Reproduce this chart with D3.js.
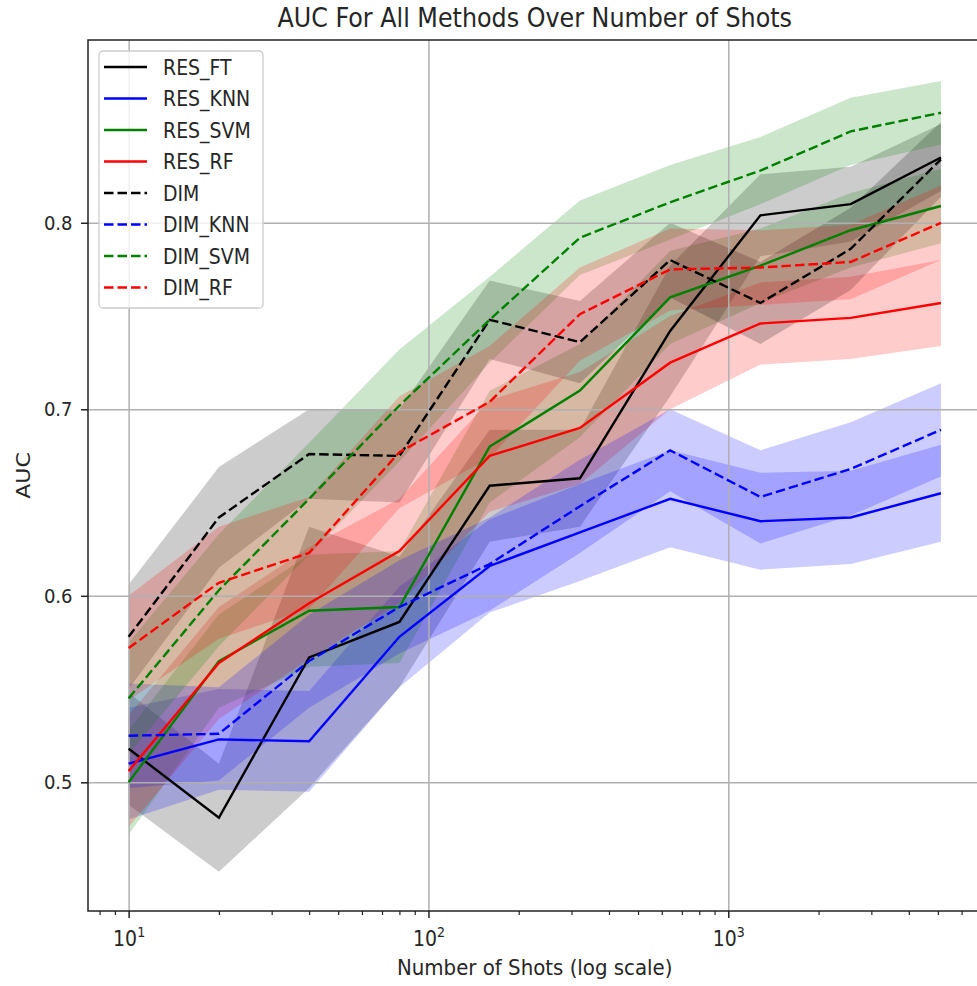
<!DOCTYPE html>
<html>
<head>
<meta charset="utf-8">
<script src="https://cdn.jsdelivr.net/npm/d3@7"></script>
<style>
body { margin: 0; background: #fff; }
svg text { font-family: "DejaVu Sans", sans-serif; fill: #262626; }
</style>
</head>
<body>
<div id="chart"></div>
<script>
const width = 977, height = 986;
const plot = { left: 88, right: 981.5, top: 40, bottom: 911 };
const squeeze = 0.9; // text in the picture is slightly narrow

// shots (x values)
const shots = [10, 20, 40, 80, 160, 320, 640, 1280, 2560, 5120];

// mean AUC per method
const resFT  = [0.518, 0.481, 0.567, 0.586, 0.659, 0.663, 0.742, 0.804, 0.810, 0.835];
const resKNN = [0.510, 0.523, 0.522, 0.578, 0.616, 0.634, 0.652, 0.640, 0.642, 0.655];
const resSVM = [0.500, 0.565, 0.592, 0.594, 0.680, 0.710, 0.760, 0.777, 0.796, 0.809];
const resRF  = [0.506, 0.564, 0.596, 0.624, 0.675, 0.690, 0.725, 0.746, 0.749, 0.757];
const dim    = [0.578, 0.642, 0.676, 0.675, 0.748, 0.736, 0.780, 0.757, 0.786, 0.834];
const dimKNN = [0.525, 0.526, 0.565, 0.594, 0.617, 0.648, 0.678, 0.653, 0.668, 0.689];
const dimSVM = [0.545, 0.603, 0.652, 0.702, 0.748, 0.792, 0.811, 0.828, 0.849, 0.859];
const dimRF  = [0.572, 0.607, 0.623, 0.677, 0.704, 0.751, 0.775, 0.776, 0.779, 0.800];

// half width of the shaded band (std)
const resFTsd  = [0.030, 0.029, 0.070, 0.035, 0.030, 0.026, 0.035, 0.022, 0.020, 0.018];
const resKNNsd = [0.030, 0.027, 0.027, 0.027, 0.025, 0.026, 0.026, 0.026, 0.025, 0.026];
const resSVMsd = [0.028, 0.025, 0.030, 0.030, 0.030, 0.025, 0.025, 0.020, 0.020, 0.020];
const resRFsd  = [0.030, 0.030, 0.030, 0.028, 0.030, 0.030, 0.025, 0.022, 0.022, 0.023];
const dimSd    = [0.028, 0.027, 0.024, 0.025, 0.021, 0.022, 0.020, 0.022, 0.022, 0.020];
const dimKNNsd = [0.028, 0.025, 0.025, 0.025, 0.025, 0.025, 0.022, 0.025, 0.025, 0.025];
const dimSVMsd = [0.030, 0.030, 0.030, 0.030, 0.023, 0.020, 0.020, 0.018, 0.018, 0.017];
const dimRFsd  = [0.028, 0.030, 0.030, 0.030, 0.030, 0.025, 0.022, 0.020, 0.020, 0.020];

const names  = ["RES_FT", "RES_KNN", "RES_SVM", "RES_RF", "DIM", "DIM_KNN", "DIM_SVM", "DIM_RF"];
const means  = [resFT, resKNN, resSVM, resRF, dim, dimKNN, dimSVM, dimRF];
const sds    = [resFTsd, resKNNsd, resSVMsd, resRFsd, dimSd, dimKNNsd, dimSVMsd, dimRFsd];
const colors = ["#000000", "#0000ff", "#008000", "#ff0000", "#000000", "#0000ff", "#008000", "#ff0000"];
const dashed = [false, false, false, false, true, true, true, true];

const xTicks = [10, 100, 1000];
const yTicks = [0.5, 0.6, 0.7, 0.8];

const series = names.map((n, i) => ({
	name: n, color: colors[i], dashed: dashed[i],
	values: shots.map((s, j) => ({ x: s, y: means[i][j], sd: sds[i][j] }))
}));

const x = d3.scaleLog()
	.domain([Math.pow(10, 0.8645), Math.pow(10, 3.8445)])
	.range([plot.left, plot.right]);

const y = d3.scaleLinear()
	.domain([0.431, 0.898])
	.range([plot.bottom, plot.top]);

const svg = d3.select('#chart')
	.append('svg')
	.attr('width', width)
	.attr('height', height);

svg.append("defs").append("clipPath").attr("id", "clip")
	.append("rect")
	.attr("x", plot.left).attr("y", plot.top)
	.attr("width", plot.right - plot.left).attr("height", plot.bottom - plot.top);

const area = d3.area()
	.x(d => x(d.x))
	.y0(d => y(d.y - d.sd))
	.y1(d => y(d.y + d.sd));

const line = d3.line()
	.x(d => x(d.x))
	.y(d => y(d.y));

// bands first
svg.append("g")
	.attr("clip-path", "url(#clip)")
	.selectAll("path")
	.data(series)
	.join("path")
	.attr("d", d => area(d.values))
	.attr("fill", d => d.color)
	.attr("fill-opacity", 0.2)
	.attr("stroke", "none");

// grid above the bands, below the lines
svg.append("g")
	.attr("transform", `translate(0,${plot.bottom})`)
	.call(d3.axisBottom(x).tickValues(xTicks).tickSize(-(plot.bottom - plot.top)).tickFormat(""))
	.call(g => g.select(".domain").remove())
	.call(g => g.selectAll("line").attr("stroke", "#b0b0b0").attr("stroke-width", 1.5));

svg.append("g")
	.attr("transform", `translate(${plot.left},0)`)
	.call(d3.axisLeft(y).tickValues(yTicks).tickSize(-(plot.right - plot.left)).tickFormat(""))
	.call(g => g.select(".domain").remove())
	.call(g => g.selectAll("line").attr("stroke", "#b0b0b0").attr("stroke-width", 1.5));

// lines
svg.append("g")
	.attr("clip-path", "url(#clip)")
	.selectAll("path")
	.data(series)
	.join("path")
	.attr("d", d => line(d.values))
	.attr("fill", "none")
	.attr("stroke", d => d.color)
	.attr("stroke-width", 2.4)
	.attr("stroke-dasharray", d => d.dashed ? "9.5,4" : null);

// frame
svg.append("rect")
	.attr("x", plot.left).attr("y", plot.top)
	.attr("width", plot.right - plot.left).attr("height", plot.bottom - plot.top)
	.attr("fill", "none")
	.attr("stroke", "#222")
	.attr("stroke-width", 1.5);

// minor x ticks
let minor = [];
for (let p = 0; p <= 3; p++) {
	for (let m = 2; m <= 9; m++) {
		let v = m * Math.pow(10, p);
		if (v > x.domain()[0] && v < x.domain()[1]) minor.push(v);
	}
}
svg.append("g")
	.attr("transform", `translate(0,${plot.bottom})`)
	.call(d3.axisBottom(x).tickValues(minor).tickSize(4).tickFormat(""))
	.call(g => g.select(".domain").remove())
	.call(g => g.selectAll("line").attr("stroke", "#222").attr("stroke-width", 1.2));

// major x ticks with 10^n labels
svg.append("g")
	.attr("transform", `translate(0,${plot.bottom})`)
	.call(d3.axisBottom(x).tickValues(xTicks).tickSize(7).tickFormat(""))
	.call(g => g.select(".domain").remove())
	.call(g => g.selectAll("line").attr("stroke", "#222").attr("stroke-width", 1.5))
	.call(g => g.selectAll(".tick text")
		.attr("y", 35)
		.attr("dy", null)
		.attr("fill", "#262626")
		.attr("font-size", 21)
		.attr("transform", `scale(${squeeze},1)`)
		.each(function (d) {
			const t = d3.select(this);
			t.append("tspan").text("10");
			t.append("tspan").attr("dy", -9).attr("font-size", 14).text(Math.round(Math.log10(d)));
		}));

// y ticks
svg.append("g")
	.attr("transform", `translate(${plot.left},0)`)
	.call(d3.axisLeft(y).tickValues(yTicks).tickSize(7).tickFormat(d3.format(".1f")))
	.call(g => g.select(".domain").remove())
	.call(g => g.selectAll("line").attr("stroke", "#222").attr("stroke-width", 1.5))
	.call(g => g.selectAll(".tick text")
		.attr("x", -15.5 / squeeze)
		.attr("fill", "#262626")
		.attr("font-size", 20)
		.attr("transform", `scale(${squeeze},1)`));

// title and axis labels
svg.append("text")
	.attr("transform", `translate(${(plot.left + plot.right) / 2},27) scale(${squeeze},1)`)
	.attr("text-anchor", "middle")
	.attr("font-size", 26.5)
	.text("AUC For All Methods Over Number of Shots");

svg.append("text")
	.attr("transform", `translate(${(plot.left + plot.right) / 2},975) scale(${squeeze},1)`)
	.attr("text-anchor", "middle")
	.attr("font-size", 22)
	.text("Number of Shots (log scale)");

svg.append("text")
	.attr("transform", `translate(30,${(plot.top + plot.bottom) / 2}) scale(${squeeze},1) rotate(-90)`)
	.attr("text-anchor", "middle")
	.attr("font-size", 22)
	.text("AUC");

// legend
const legend = svg.append("g");
legend.append("rect")
	.attr("x", 99).attr("y", 51)
	.attr("width", 164).attr("height", 257)
	.attr("rx", 4)
	.attr("fill", "#fff").attr("fill-opacity", 0.8)
	.attr("stroke", "#cccccc").attr("stroke-width", 1.3);

const rows = legend.selectAll("g.row")
	.data(series)
	.join("g")
	.attr("class", "row")
	.attr("transform", (d, i) => `translate(0,${67 + i * 31.5})`);

rows.append("line")
	.attr("x1", 104).attr("x2", 147)
	.attr("stroke", d => d.color)
	.attr("stroke-width", 2.4)
	.attr("stroke-dasharray", d => d.dashed ? "9.5,4" : null);

rows.append("text")
	.attr("transform", `translate(163,0) scale(${squeeze},1)`)
	.attr("dy", "0.36em")
	.attr("font-size", 21)
	.text(d => d.name);
</script>
</body>
</html>
